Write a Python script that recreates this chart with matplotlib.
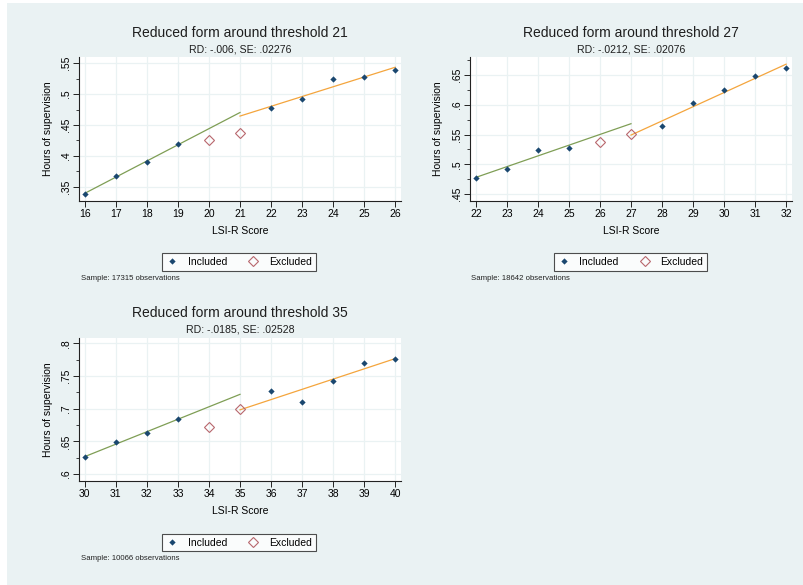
import numpy as np
import matplotlib
matplotlib.use("Agg")
import matplotlib.pyplot as plt
from matplotlib.patches import Rectangle
from matplotlib.lines import Line2D
from matplotlib.ticker import MultipleLocator, FuncFormatter

plt.rcParams['font.family'] = ['Liberation Sans', 'DejaVu Sans']

# ---------------- data ----------------
thresholds = [21, 27, 35]
titles = ["Reduced form around threshold 21",
          "Reduced form around threshold 27",
          "Reduced form around threshold 35"]
subtitles = ["RD: -.006, SE: .02276",
             "RD: -.0212, SE: .02076",
             "RD: -.0185, SE: .02528"]
samples = ["Sample: 17315 observations",
           "Sample: 18642 observations",
           "Sample: 10066 observations"]

x1 = [16, 17, 18, 19, 20, 21, 22, 23, 24, 25, 26]
y1 = [0.3387, 0.3673, 0.3900, 0.4184, 0.4260, 0.4368, 0.4770, 0.4920, 0.5249, 0.5270, 0.5386]
x2 = [22, 23, 24, 25, 26, 27, 28, 29, 30, 31, 32]
y2 = [0.4770, 0.4922, 0.5242, 0.5265, 0.5382, 0.5506, 0.5651, 0.6028, 0.6252, 0.6478, 0.6618]
x3 = [30, 31, 32, 33, 34, 35, 36, 37, 38, 39, 40]
y3 = [0.6255, 0.6485, 0.6628, 0.6842, 0.6724, 0.6990, 0.7270, 0.7107, 0.7423, 0.7704, 0.7755]

# excluded bins (donut) per panel
excluded = [[20, 21], [26, 27], [34, 35]]

yticks = [[0.35, 0.40, 0.45, 0.50, 0.55],
          [0.45, 0.50, 0.55, 0.60, 0.65],
          [0.60, 0.65, 0.70, 0.75, 0.80]]
ylims = [(0.3276, 0.5602), (0.4387, 0.6803), (0.5893, 0.8081)]

# ---------------- style ----------------
W, H = 804, 585
BG = '#eaf2f3'
NAVY = '#1a476f'
MAROON = '#b8676d'
GREEN = '#7f9e55'
ORANGE = '#f4a53d'

fig = plt.figure(figsize=(W / 100, H / 100), dpi=100)
fig.patch.set_facecolor('white')
fig.add_artist(Rectangle((7 / W, 0), 1 - 7 / W, 1 - 3 / H, transform=fig.transFigure,
                         facecolor=BG, edgecolor='none', zorder=-10))


def px_axes(l, t, r, b):
    return fig.add_axes([l / W, 1 - b / H, (r - l) / W, (b - t) / H])


def ftext(x, y, s, **kw):
    fig.text(x / W, 1 - y / H, s, **kw)


def fmt(v, pos):
    s = ('%.2f' % v).rstrip('0').rstrip('.')
    if s.startswith('0'):
        s = s[1:]
    return s


# panel geometry (pixels): axes box, title y, subtitle y, legend center, sample pos, ylabel x
panels = [
    dict(box=(79, 57, 401, 200.5), ty=33, sy=49, lx=239, ly=262, spx=81, spy=278, ylx=48),
    dict(box=(470, 57, 792, 200.7), ty=33, sy=49, lx=630.5, ly=262, spx=471, spy=278, ylx=438),
    dict(box=(79, 338, 401, 481), ty=313, sy=330, lx=239, ly=542.5, spx=81, spy=558, ylx=48),
]

datasets = [(x1, y1), (x2, y2), (x3, y3)]

for i, (p, (xs, ys)) in enumerate(zip(panels, datasets)):
    l, t, r, b = p['box']
    ax = px_axes(l, t, r, b)
    ax.set_facecolor('white')
    xs = np.array(xs, dtype=float)
    ys = np.array(ys, dtype=float)
    c = thresholds[i]
    exc = np.isin(xs, excluded[i])
    inc = ~exc

    # fits on included points, each side of threshold
    left = inc & (xs < c)
    right = inc & (xs > c)
    pl = np.polyfit(xs[left], ys[left], 1)
    pr = np.polyfit(xs[right], ys[right], 1)
    xl = np.array([xs.min(), c])
    xr = np.array([c, xs.max()])
    ax.plot(xl, np.polyval(pl, xl), color=GREEN, lw=0.9, zorder=3)
    ax.plot(xr, np.polyval(pr, xr), color=ORANGE, lw=0.9, zorder=3)

    ax.plot(xs[inc], ys[inc], linestyle='none', marker='D', markersize=3.2,
            color=NAVY, markeredgewidth=0, zorder=4)
    ax.plot(xs[exc], ys[exc], linestyle='none', marker='D', markersize=5.6,
            markerfacecolor='none', markeredgecolor=MAROON, markeredgewidth=0.8, zorder=4)

    ax.set_xlim(xs.min() - 0.19, xs.max() + 0.19)
    ax.set_ylim(*ylims[i])
    ax.set_xticks(xs)
    ax.set_xticklabels([str(int(v)) for v in xs])
    ax.set_yticks(yticks[i])
    ax.yaxis.set_major_formatter(FuncFormatter(fmt))
    ax.yaxis.set_minor_locator(MultipleLocator(0.025))
    ax.grid(True, which='major', color=BG, lw=0.9, zorder=0)
    ax.set_axisbelow(True)
    for s in ['top', 'right']:
        ax.spines[s].set_visible(False)
    for s in ['left', 'bottom']:
        ax.spines[s].set_color('#222222')
        ax.spines[s].set_linewidth(0.8)
    ax.tick_params(axis='both', which='major', length=4, width=0.7, color='#222222',
                   labelsize=7.5, pad=2)
    ax.tick_params(axis='y', which='minor', length=2, width=0.6, color='#222222')
    for lab in ax.get_yticklabels():
        lab.set_rotation(90)
        lab.set_va('center')

    ax.set_xlabel("LSI-R Score", fontsize=7.5, labelpad=5)
    ax.set_ylabel("")
    ftext(p['ylx'], (t + b) / 2, "Hours of supervision", rotation=90,
          ha='center', va='center', fontsize=7.5)

    cx = (l + r) / 2
    ftext(cx, p['ty'], titles[i], ha='center', va='center', fontsize=10, color='#1e1e1e')
    ftext(cx, p['sy'], subtitles[i], ha='center', va='center', fontsize=7.6, color='#1e1e1e')
    ftext(p['spx'], p['spy'], samples[i], ha='left', va='center', fontsize=5.6, color='#222222')

    handles = [Line2D([], [], linestyle='none', marker='D', markersize=3.2, color=NAVY,
                      markeredgewidth=0),
               Line2D([], [], linestyle='none', marker='D', markersize=5.6, markerfacecolor='none',
                      markeredgecolor=MAROON, markeredgewidth=0.8)]
    leg = ax.legend(handles, ["Included", "Excluded"], loc='center',
                    bbox_to_anchor=(p['lx'] / W, 1 - p['ly'] / H), bbox_transform=fig.transFigure,
                    ncol=2, fontsize=7.5, frameon=True, fancybox=False, borderpad=0.35,
                    handlelength=1.2, handletextpad=0.9, columnspacing=1.9, borderaxespad=0)
    leg.get_frame().set_edgecolor('#222222')
    leg.get_frame().set_linewidth(0.8)
    leg.get_frame().set_facecolor('white')

fig.savefig("out.png", dpi=100, facecolor=fig.get_facecolor())
